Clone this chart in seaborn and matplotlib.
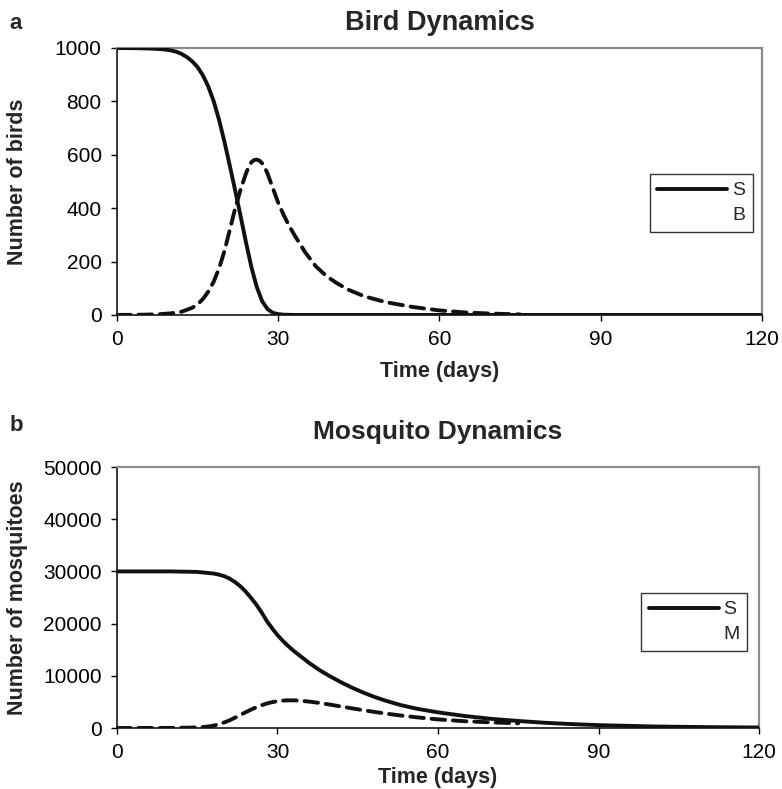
import matplotlib
matplotlib.use("Agg")
import matplotlib.pyplot as plt
from matplotlib.lines import Line2D
import seaborn as sns

# Bird dynamics (panel a)
bird_s_days = [0, 4, 6, 8, 9, 10, 11, 12, 13, 14, 15, 16, 17, 18, 19, 20, 21, 22, 23,
               24, 25, 26, 27, 28, 29, 30, 31, 33, 40, 60, 90, 120]
bird_s = [1000, 999, 998, 996, 994, 991, 986, 978, 966, 950, 928, 897, 855, 800, 730,
          648, 558, 465, 370, 272, 180, 105, 52, 22, 8, 3, 1, 0, 0, 0, 0, 0]

bird_b_days = [0, 5, 8, 10, 12, 14, 15, 16, 17, 18, 19, 20, 21, 22, 23, 24, 24.5, 25,
               25.5, 26, 26.5, 27, 27.5, 28, 29, 30, 31, 32, 33, 35, 37, 39, 41, 43,
               46, 50, 55, 60, 65, 70, 75]
bird_b = [0, 1, 3, 6, 12, 27, 40, 60, 88, 125, 175, 240, 320, 400, 470, 530, 555, 572,
          580, 582, 578, 568, 552, 530, 475, 420, 375, 335, 300, 235, 182, 145, 118, 95,
          70, 48, 30, 17, 9, 5, 2]

# Mosquito dynamics (panel b)
mosq_s_days = [0, 10, 15, 18, 19, 20, 21, 22, 23, 24, 25, 26, 27, 28, 29, 30, 31, 32,
               33, 34, 35, 36, 38, 40, 42, 44, 46, 48, 50, 53, 56, 60, 65, 70, 75, 80,
               85, 90, 100, 110, 120]
mosq_s = [30000, 30000, 29900, 29600, 29400, 29100, 28650, 28000, 27200, 26200, 25000,
          23700, 22200, 20500, 19100, 17800, 16700, 15700, 14800, 14000, 13200, 12400,
          11000, 9800, 8700, 7700, 6800, 6000, 5300, 4400, 3700, 3000, 2300, 1750, 1350,
          1000, 750, 550, 300, 170, 100]

mosq_m_days = [0, 10, 14, 16, 17, 18, 19, 20, 21, 22, 23, 24, 25, 26, 27, 28, 29, 30,
               31, 32, 33, 34, 36, 38, 40, 42, 44, 46, 48, 50, 53, 56, 60, 65, 70, 75]
mosq_m = [0, 20, 80, 180, 280, 450, 700, 1050, 1450, 1950, 2450, 3000, 3500, 3950, 4350,
          4700, 4950, 5150, 5250, 5300, 5300, 5250, 5050, 4780, 4450, 4100, 3750, 3420,
          3100, 2800, 2400, 2050, 1650, 1300, 1080, 900]

x_ticks = [0, 30, 60, 90, 120]

sns.set_style("ticks")
plt.rcParams["font.family"] = ["Liberation Sans", "DejaVu Sans"]

fig = plt.figure(figsize=(7.82, 7.89), dpi=100)
ax1 = fig.add_axes([0.1496, 0.6008, 0.8248, 0.3384])
ax2 = fig.add_axes([0.1496, 0.0773, 0.8210, 0.3308])

dash = (0, (3.5, 2.0))
lw = 2.8


def style_axes(ax, ylim, yticks):
    ax.set_xlim(0, 120)
    ax.set_ylim(*ylim)
    ax.set_xticks(x_ticks)
    ax.set_yticks(yticks)
    for side in ["top", "right"]:
        ax.spines[side].set_color("#8c8c8c")
        ax.spines[side].set_linewidth(1.6)
    for side in ["left", "bottom"]:
        ax.spines[side].set_color("black")
        ax.spines[side].set_linewidth(1.1)
    ax.tick_params(direction="out", length=4, width=1, colors="black",
                   labelsize=15, pad=7)


# panel a
sns.lineplot(x=bird_b_days, y=bird_b, ax=ax1, color="#111111", lw=lw,
             linestyle=dash, dash_capstyle="round", zorder=3)
sns.lineplot(x=bird_s_days, y=bird_s, ax=ax1, color="#111111", lw=lw,
             solid_capstyle="round", zorder=4)
style_axes(ax1, (0, 1000), [0, 200, 400, 600, 800, 1000])
ax1.set_title("Bird Dynamics", fontsize=19.5, fontweight="bold", pad=13)
ax1.set_xlabel("Time (days)", fontsize=15.5, fontweight="bold")
ax1.set_ylabel("Number of birds", fontsize=15.5, fontweight="bold")
ax1.xaxis.set_label_coords(0.5, -0.172)
ax1.yaxis.set_label_coords(-0.138, 0.5)

# panel b
sns.lineplot(x=mosq_m_days, y=mosq_m, ax=ax2, color="#111111", lw=lw,
             linestyle=dash, dash_capstyle="round", zorder=3)
sns.lineplot(x=mosq_s_days, y=mosq_s, ax=ax2, color="#111111", lw=lw,
             solid_capstyle="round", zorder=4)
style_axes(ax2, (0, 50000), [0, 10000, 20000, 30000, 40000, 50000])
ax2.set_title("Mosquito Dynamics", fontsize=19, fontweight="bold", pad=20)
ax2.set_xlabel("Time (days)", fontsize=15.5, fontweight="bold")
ax2.set_ylabel("Number of mosquitoes", fontsize=15.5, fontweight="bold")
ax2.xaxis.set_label_coords(0.5, -0.150)
ax2.yaxis.set_label_coords(-0.138, 0.5)


def add_legend(ax, labels, anchor):
    handles = [Line2D([], [], color="#111111", lw=lw, solid_capstyle="round"),
               Line2D([], [], color="none", lw=lw)]
    leg = ax.legend(handles, labels, loc="upper right", bbox_to_anchor=anchor,
                    fontsize=14, handlelength=3.6, handletextpad=0.25,
                    labelspacing=0.35, borderpad=0.4, borderaxespad=0,
                    frameon=True, fancybox=False, framealpha=1)
    leg.get_frame().set_edgecolor("#333333")
    leg.get_frame().set_linewidth(1.0)


add_legend(ax1, ["S", "B"], (0.986, 0.528))
add_legend(ax2, ["S", "M"], (0.982, 0.517))

fig.text(0.012, 0.970, "a", fontsize=16, fontweight="bold", va="center")
fig.text(0.012, 0.461, "b", fontsize=16, fontweight="bold", va="center")

fig.savefig("out.png", dpi=100)
